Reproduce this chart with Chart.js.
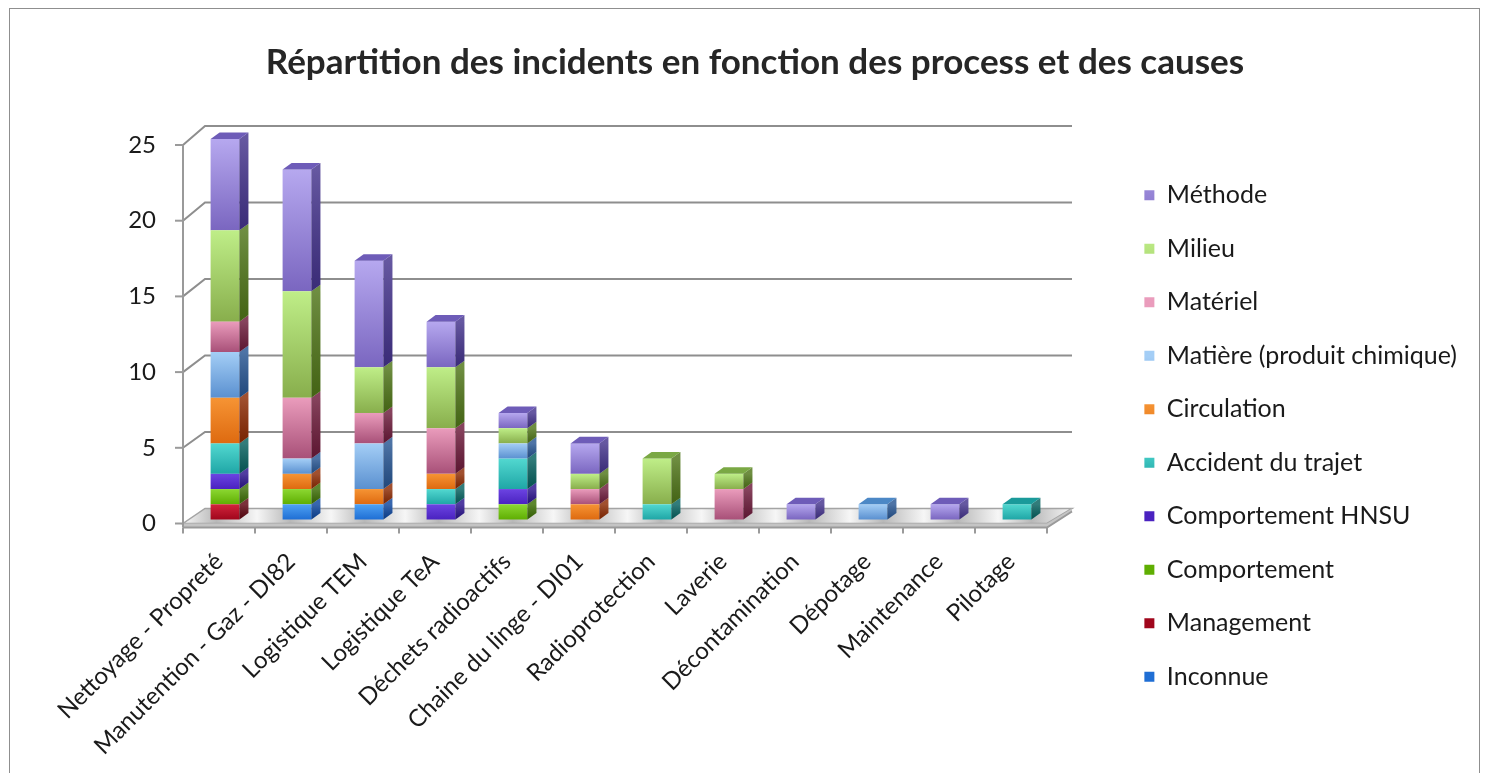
<!DOCTYPE html>
<html>
<head>
<meta charset="utf-8">
<script src="https://cdn.jsdelivr.net/npm/chart.js@4.4.1/dist/chart.umd.min.js"></script>
<style>
  html, body { margin: 0; padding: 0; background: #fff; overflow: hidden; }
  #frame { position: absolute; left: 9px; top: 8px; width: 1469px; height: 900px; border: 1px solid #8f8f8f; }
  #wrap { position: absolute; left: 0; top: 0; width: 1488px; height: 872px; }
</style>
</head>
<body>
<div id="frame"></div>
<div id="wrap"><canvas id="chart" width="1488" height="872"></canvas></div>
<script>
const categories = ["Nettoyage - Propreté", "Manutention - Gaz - DI82", "Logistique TEM", "Logistique TeA",
  "Déchets radioactifs", "Chaine du linge - DI01", "Radioprotection", "Laverie",
  "Décontamination", "Dépotage", "Maintenance", "Pilotage"];

// series, bottom of the stack first
const inconnue     = [0, 1, 1, 0, 0, 0, 0, 0, 0, 0, 0, 0];
const management   = [1, 0, 0, 0, 0, 0, 0, 0, 0, 0, 0, 0];
const comportement = [1, 1, 0, 0, 1, 0, 0, 0, 0, 0, 0, 0];
const hnsu         = [1, 0, 0, 1, 1, 0, 0, 0, 0, 0, 0, 0];
const accident     = [2, 0, 0, 1, 2, 0, 1, 0, 0, 0, 0, 1];
const circulation  = [3, 1, 1, 1, 0, 1, 0, 0, 0, 0, 0, 0];
const matiere      = [3, 1, 3, 0, 1, 0, 0, 0, 0, 1, 0, 0];
const materiel     = [2, 4, 2, 3, 0, 1, 0, 2, 0, 0, 0, 0];
const milieu       = [6, 7, 3, 4, 1, 1, 3, 1, 0, 0, 0, 0];
const methode      = [6, 8, 7, 3, 1, 2, 0, 0, 1, 0, 1, 0];

const seriesNames = ["Inconnue", "Management", "Comportement", "Comportement HNSU", "Accident du trajet",
  "Circulation", "Matière (produit chimique)", "Matériel", "Milieu", "Méthode"];
const seriesData = [inconnue, management, comportement, hnsu, accident, circulation, matiere, materiel, milieu, methode];
const yTicks = [0, 5, 10, 15, 20, 25];

// colours
const lightColors  = ["#4ea2f4", "#d2243c", "#8cd832", "#6c44e2", "#52d8d0", "#f69434", "#a4cef6", "#ea9cbc", "#bfee88", "#b6a8ef"];
const darkColors   = ["#1f6ed4", "#a0061c", "#5fae02", "#4a22c0", "#1fa6a6", "#de6a10", "#5a90d0", "#a85078", "#88ae4c", "#7a66c0"];
const sideColors   = ["#0c459c", "#5e0410", "#3a6c02", "#2a128c", "#05605e", "#8c2a02", "#275592", "#6c1a3a", "#4f7518", "#44338c"];
const topColors    = ["#2f6cc0", "#8e1020", "#5e9a1a", "#4630b0", "#1a9a9a", "#c05a10", "#4c88c6", "#a0486e", "#7aa844", "#6e5cb8"];
const legendColors = ["#3a78c2", "#b8262e", "#7ab03c", "#6a4aa0", "#3aa6c0", "#e8832c", "#7ea6d8", "#d88a8a", "#a8c87c", "#a092c8"];

const DEPTH_X = 9, DEPTH_Y = -6.5;

function frontFill(c) {
  const i = c.datasetIndex;
  if (c.type !== 'data') return legendColors[i];
  const y = c.chart.scales.y;
  if (!y) return darkColors[i];
  let start = 0;
  for (let k = 0; k < i; k++) start += seriesData[k][c.dataIndex];
  const end = start + seriesData[i][c.dataIndex];
  const y0 = y.getPixelForValue(end), y1 = y.getPixelForValue(start);
  if (!isFinite(y0) || y1 - y0 < 1) return darkColors[i];
  const g = c.chart.ctx.createLinearGradient(0, y0, 0, y1);
  g.addColorStop(0, lightColors[i]);
  g.addColorStop(1, darkColors[i]);
  return g;
}

const depth3d = {
  id: 'depth3d',
  beforeDatasetsDraw(chart) {
    const {ctx, chartArea: a, scales: {y}} = chart;
    const base = y.getPixelForValue(0);
    const back = v => base - 15 + (y.getPixelForValue(v) - base) * 1.0106;
    ctx.save();
    // back wall grid
    ctx.strokeStyle = '#8e8e8e';
    ctx.lineWidth = 2;
    yTicks.forEach(v => {
      if (v === 0) return;
      const fy = y.getPixelForValue(v), by = back(v);
      ctx.beginPath();
      ctx.moveTo(a.left, fy);
      ctx.lineTo(a.left + 22, by);
      ctx.lineTo(a.right + 25, by);
      ctx.stroke();
    });
    // floor
    const g = ctx.createLinearGradient(a.left, base, a.right + 25, base - 15);
    const n = categories.length;
    for (let i = 0; i <= n; i++) {
      g.addColorStop(Math.min(1, i / n), '#f6f6f6');
      if (i < n) g.addColorStop((i + 0.45) / n, '#b8b8b8');
    }
    ctx.beginPath();
    ctx.moveTo(a.left, base);
    ctx.lineTo(a.right, base);
    ctx.lineTo(a.right + 25, base - 15);
    ctx.lineTo(a.left + 22, base - 15);
    ctx.closePath();
    ctx.fillStyle = g;
    ctx.fill();
    ctx.strokeStyle = '#a4a4a4';
    ctx.lineWidth = 1.5;
    ctx.stroke();
    // floor thickness
    ctx.fillStyle = '#c4c4c4';
    ctx.beginPath();
    ctx.moveTo(a.left, base); ctx.lineTo(a.right, base); ctx.lineTo(a.right + 25, base - 15);
    ctx.lineTo(a.right + 25, base - 12); ctx.lineTo(a.right, base + 4); ctx.lineTo(a.left, base + 4);
    ctx.closePath();
    ctx.fill();
    ctx.strokeStyle = '#9a9a9a';
    ctx.lineWidth = 2;
    ctx.beginPath();
    ctx.moveTo(a.left, base + 4); ctx.lineTo(a.right, base + 4); ctx.lineTo(a.right + 25, base - 12);
    ctx.stroke();
    // category ticks
    for (let i = 0; i <= n; i++) {
      const tx = a.left + i * (a.right - a.left) / n;
      ctx.beginPath();
      ctx.moveTo(tx, base + 4);
      ctx.lineTo(tx, base + 10);
      ctx.stroke();
    }
    // value axis
    ctx.beginPath();
    ctx.moveTo(a.left, y.getPixelForValue(25));
    ctx.lineTo(a.left, base + 4);
    ctx.stroke();
    yTicks.forEach(v => {
      const fy = y.getPixelForValue(v);
      ctx.beginPath();
      ctx.moveTo(a.left - 8, fy);
      ctx.lineTo(a.left, fy);
      ctx.stroke();
    });
    ctx.restore();
    // bars sit half way into the depth
    ctx.save();
    const k = 1.0053;
    ctx.transform(1, 0, 0, k, 6, base - 4 - base * k);
  },
  afterDatasetsDraw(chart) {
    const ctx = chart.ctx;
    categories.forEach((cat, j) => {
      let topIdx = -1;
      seriesData.forEach((s, i) => { if (s[j] > 0) topIdx = i; });
      seriesData.forEach((s, i) => {
        if (!s[j]) return;
        const el = chart.getDatasetMeta(i).data[j];
        const p = el.getProps(['x', 'y', 'base', 'width'], true);
        const l = p.x - p.width / 2, r = p.x + p.width / 2;
        const t = Math.min(p.y, p.base), b = Math.max(p.y, p.base);
        ctx.beginPath();
        ctx.moveTo(r, b); ctx.lineTo(r, t); ctx.lineTo(r + DEPTH_X, t + DEPTH_Y); ctx.lineTo(r + DEPTH_X, b + DEPTH_Y);
        ctx.closePath();
        ctx.fillStyle = sideColors[i];
        ctx.fill();
        const sg = ctx.createLinearGradient(0, t, 0, b);
        sg.addColorStop(0, 'rgba(255,255,255,0.18)');
        sg.addColorStop(1, 'rgba(0,0,0,0.15)');
        ctx.fillStyle = sg;
        ctx.fill();
        if (i === topIdx) {
          ctx.beginPath();
          ctx.moveTo(l, t); ctx.lineTo(r, t); ctx.lineTo(r + DEPTH_X, t + DEPTH_Y); ctx.lineTo(l + DEPTH_X, t + DEPTH_Y);
          ctx.closePath();
          ctx.fillStyle = topColors[i];
          ctx.fill();
        }
      });
    });
    ctx.restore();
  }
};

const PAD_RIGHT = 21, PAD_LEFT = 43;

const chart = new Chart(document.getElementById('chart').getContext('2d'), {
  type: 'bar',
  data: {
    labels: categories,
    datasets: seriesNames.map((name, i) => ({
      label: name,
      data: seriesData[i],
      backgroundColor: frontFill,
      borderWidth: 0,
      barPercentage: 0.8,
      categoryPercentage: 0.5,
      clip: false
    }))
  },
  options: {
    responsive: false,
    animation: false,
    layout: { padding: { left: PAD_LEFT, right: PAD_RIGHT, top: 0, bottom: 0 } },
    scales: {
      x: {
        stacked: true,
        grid: { display: false, drawTicks: false },
        border: { display: false },
        ticks: { minRotation: 45, maxRotation: 45, autoSkip: false, padding: 24, color: '#1a1a1a',
                 font: { family: 'Lato', size: 24 } },
        afterFit: s => { s.height = 348.5; s.paddingLeft = 0; s.paddingRight = 0; }
      },
      y: {
        stacked: true,
        min: 0, max: 25,
        grid: { display: false, drawTicks: false },
        border: { display: false },
        ticks: { stepSize: 5, padding: 27, color: '#1a1a1a', font: { family: 'Lato', size: 24 } },
        afterFit: s => { s.width = 183 - PAD_LEFT; s.paddingTop = 0; s.paddingBottom = 0; }
      },
      gap: {
        type: 'linear',
        position: 'right',
        grid: { display: false, drawTicks: false },
        border: { display: false },
        ticks: { display: false },
        afterFit: s => { s.width = Math.max(0, 1488 - PAD_RIGHT - 1047 - s.chart.legend.width); }
      }
    },
    plugins: {
      title: {
        display: true,
        text: 'Répartition des incidents en fonction des process et des causes',
        color: '#262626',
        font: { family: 'Lato', size: 35, weight: 'bold' },
        padding: { top: 42, bottom: 61 }
      },
      legend: {
        position: 'right',
        reverse: true,
        maxWidth: 440,
        labels: { boxWidth: 10, boxHeight: 10, padding: 28.5, color: '#1a1a1a', font: { family: 'Lato', size: 25 } }
      },
      tooltip: { enabled: false }
    }
  },
  plugins: [depth3d]
});
</script>
</body>
</html>
